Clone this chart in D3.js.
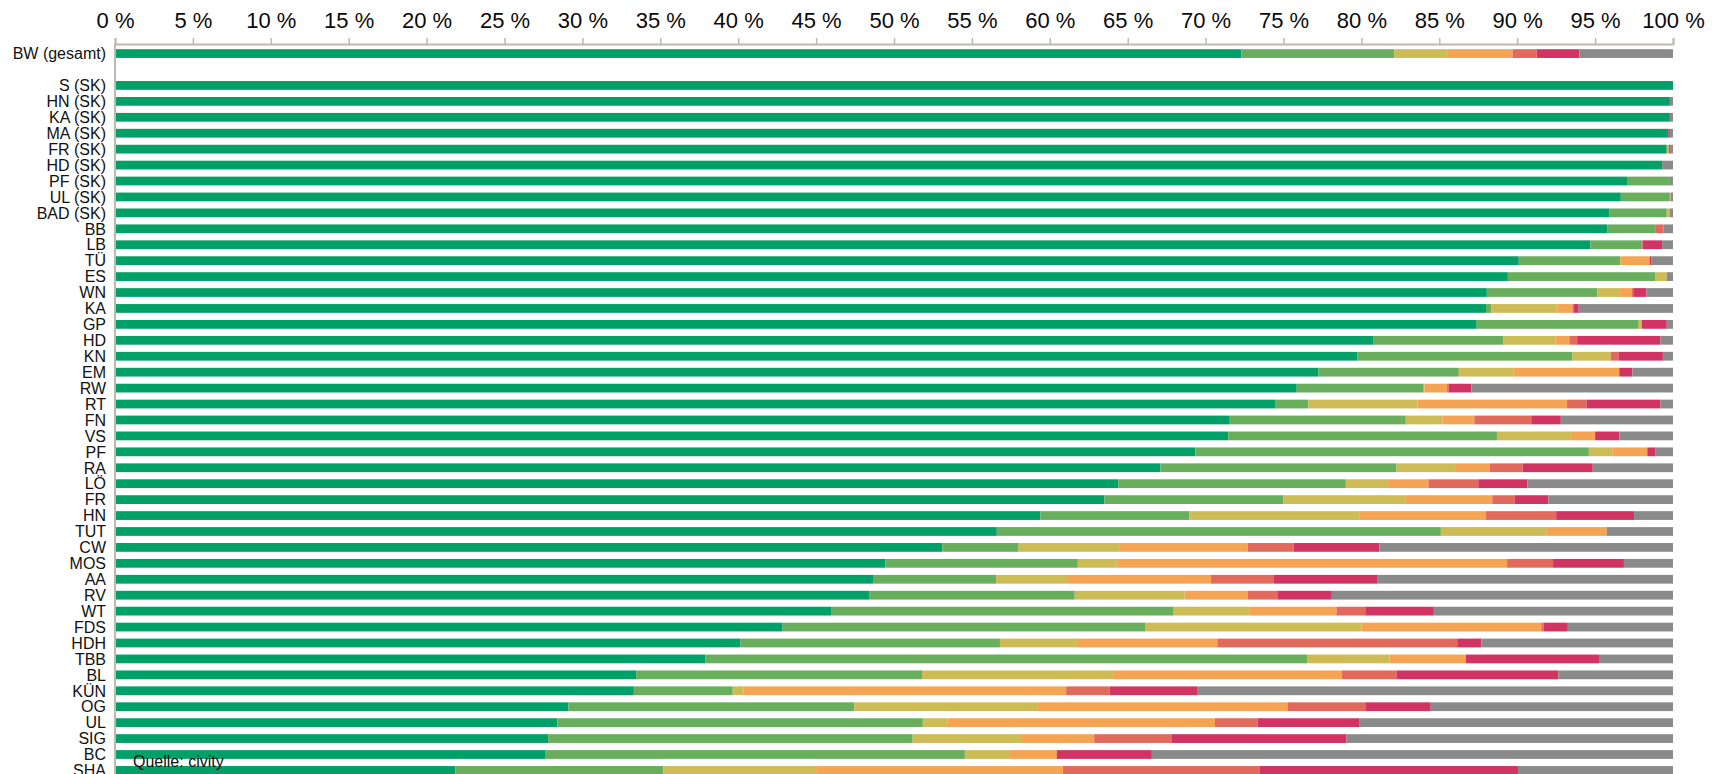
<!DOCTYPE html>
<html>
<head>
<meta charset="utf-8">
<script src="https://cdn.jsdelivr.net/npm/d3@7"></script>
<style>
    body { margin: 0; background: #fff; }
    svg { display: block; font-family: "Liberation Sans", Arial, sans-serif; }
    .axis path, .axis line { stroke: #bdbaad; }
    .axis text { fill: #0a0a0a; }
</style>
</head>
<body>
<div id="chart"></div>
<script>
var regions = ["BW (gesamt)",
    "S (SK)", "HN (SK)", "KA (SK)", "MA (SK)", "FR (SK)", "HD (SK)", "PF (SK)", "UL (SK)", "BAD (SK)",
    "BB", "LB", "TÜ", "ES", "WN", "KA", "GP", "HD", "KN", "EM",
    "RW", "RT", "FN", "VS", "PF", "RA", "LÖ", "FR", "HN", "TUT",
    "CW", "MOS", "AA", "RV", "WT", "FDS", "HDH", "TBB", "BL", "KÜN",
    "OG", "UL", "SIG", "BC", "SHA"];

// Anteile in % je Stufe (von links nach rechts)
var s1 = [72.3,
    100, 99.8, 99.8, 99.7, 99.6, 99.3, 97.05, 96.65, 95.9,
    95.8, 94.7, 90.1, 89.4, 88.05, 88.0, 87.4, 80.75, 79.75, 77.25,
    75.85, 74.5, 71.55, 71.45, 69.35, 67.1, 64.4, 63.5, 59.4, 56.6,
    53.1, 49.45, 48.65, 48.4, 46.0, 42.85, 40.15, 37.9, 33.45, 33.3,
    29.1, 28.4, 27.8, 27.6, 21.85];
var s2 = [9.8,
    0, 0, 0, 0, 0, 0, 2.75, 3.15, 3.7,
    3.1, 3.3, 6.5, 9.45, 7.1, 0.35, 10.4, 8.35, 13.8, 9.0,
    8.15, 2.1, 11.3, 17.25, 25.25, 15.15, 14.6, 11.5, 9.55, 28.5,
    4.9, 12.35, 7.9, 13.2, 21.95, 23.3, 16.65, 38.65, 18.35, 6.35,
    18.35, 23.45, 23.4, 26.95, 13.35];
var s3 = [3.45,
    0, 0, 0, 0, 0.15, 0, 0, 0, 0.2,
    0, 0, 0.05, 0.75, 1.45, 4.25, 0.2, 3.35, 2.45, 3.5,
    0.05, 7.0, 2.35, 4.75, 1.5, 3.75, 2.65, 7.85, 10.95, 6.8,
    6.5, 2.5, 4.55, 7.05, 4.85, 13.85, 4.95, 5.25, 12.25, 0.7,
    11.8, 1.6, 6.95, 2.9, 9.8];
var s4 = [4.15,
    0, 0, 0, 0, 0, 0, 0, 0.05, 0,
    0, 0, 1.85, 0, 0.75, 0.95, 0, 0.9, 0, 6.8,
    1.45, 9.6, 2.05, 1.55, 2.25, 2.25, 2.65, 5.55, 8.1, 3.85,
    8.2, 25.05, 9.25, 4.05, 5.6, 11.55, 9.0, 4.9, 14.7, 20.7,
    16.0, 17.15, 4.7, 3.0, 15.85];
var s5 = [1.55,
    0, 0, 0, 0, 0, 0, 0, 0, 0,
    0.5, 0.05, 0, 0, 0.1, 0.1, 0, 0.5, 0.5, 0,
    0.1, 1.25, 3.65, 0, 0, 2.1, 3.2, 1.45, 4.5, 0,
    2.95, 2.95, 4.0, 1.9, 1.85, 0.15, 15.4, 0, 3.5, 2.8,
    5.0, 2.75, 4.95, 0, 12.6];
var s6 = [2.75,
    0, 0, 0, 0.1, 0.1, 0, 0, 0, 0,
    0, 1.25, 0.1, 0, 0.85, 0.3, 1.6, 5.35, 2.85, 0.85,
    1.45, 4.75, 1.9, 1.55, 0.5, 4.5, 3.15, 2.15, 5.0, 0,
    5.5, 4.55, 6.7, 3.5, 4.4, 1.55, 1.55, 8.55, 10.4, 5.6,
    4.2, 6.5, 11.25, 6.1, 16.6];
var s7 = [6.0,
    0, 0.2, 0.2, 0.2, 0.15, 0.7, 0.2, 0.15, 0.2,
    0.6, 0.7, 1.4, 0.4, 1.7, 6.05, 0.4, 0.8, 0.65, 2.6,
    12.95, 0.8, 7.2, 3.45, 1.15, 5.15, 9.35, 8.0, 2.5, 4.25,
    18.85, 3.15, 18.95, 21.9, 15.35, 6.75, 12.3, 4.75, 7.35, 30.55,
    15.55, 20.15, 20.95, 33.45, 9.95];

var xTicks = d3.range(0, 101, 5);
var source = "Quelle: civity";

var width = 1723,
    height = 774;

var series = [
    {key: "s1", values: s1, color: "#00a068"},
    {key: "s2", values: s2, color: "#68ae5c"},
    {key: "s3", values: s3, color: "#cdbb56"},
    {key: "s4", values: s4, color: "#f5a453"},
    {key: "s5", values: s5, color: "#e26a5c"},
    {key: "s6", values: s6, color: "#d13463"},
    {key: "s7", values: s7, color: "#8a8a8b"}
];

var table = regions.map(function (r, i) {
    var row = {region: r};
    series.forEach(function (s) {
        row[s.key] = s.values[i];
    });
    return row;
});

// leere Zeile zwischen Land und Kreisen
var slots = [regions[0], "__gap"].concat(regions.slice(1));

var x = d3.scaleLinear().domain([0, 100]).range([115, 1673]);
var y = d3.scaleBand()
    .domain(slots)
    .range([46, 778])
    .paddingInner(0.45)
    .paddingOuter(0.2);
var z = d3.scaleOrdinal()
    .domain(series.map(function (s) { return s.key; }))
    .range(series.map(function (s) { return s.color; }));

var stacked = d3.stack()
    .keys(series.map(function (s) { return s.key; }))(table);

var svg = d3.select("#chart").append("svg")
    .attr("width", width)
    .attr("height", height);

svg.append("g")
    .selectAll("g")
    .data(stacked)
    .enter().append("g")
    .attr("fill", function (d) { return z(d.key); })
    .selectAll("rect")
    .data(function (d) { return d; })
    .enter().append("rect")
    .attr("x", function (d) { return x(d[0]); })
    .attr("y", function (d) { return y(d.data.region); })
    .attr("width", function (d) { return Math.max(0, x(d[1]) - x(d[0])); })
    .attr("height", y.bandwidth());

// x axis on top
var xAxis = svg.append("g")
    .attr("class", "x axis")
    .attr("transform", "translate(0,44)")
    .call(d3.axisTop(x)
        .tickValues(xTicks)
        .tickSize(6)
        .tickSizeOuter(6)
        .tickPadding(10)
        .tickFormat(function (d) { return d + " %"; }));
xAxis.select(".domain").attr("stroke-width", 2);
xAxis.selectAll(".tick line").attr("stroke-width", 1.5);
xAxis.selectAll("text")
    .style("font-size", "22px")
    .style("font-family", "\"Liberation Sans\", Arial, sans-serif");

// left axis line
svg.append("line")
    .attr("x1", x(0))
    .attr("x2", x(0))
    .attr("y1", 44)
    .attr("y2", height)
    .attr("stroke", "#bdbaad")
    .attr("stroke-width", 2);

svg.append("g")
    .selectAll("text")
    .data(regions)
    .enter().append("text")
    .attr("x", 106)
    .attr("y", function (d) { return y(d) + y.bandwidth() / 2; })
    .attr("dy", "0.36em")
    .attr("text-anchor", "end")
    .style("font-size", "16px")
    .attr("fill", "#111")
    .text(function (d) { return d; });

svg.append("text")
    .attr("x", 133)
    .attr("y", 767)
    .style("font-size", "16px")
    .attr("fill", "#111")
    .text(source);
</script>
</body>
</html>
